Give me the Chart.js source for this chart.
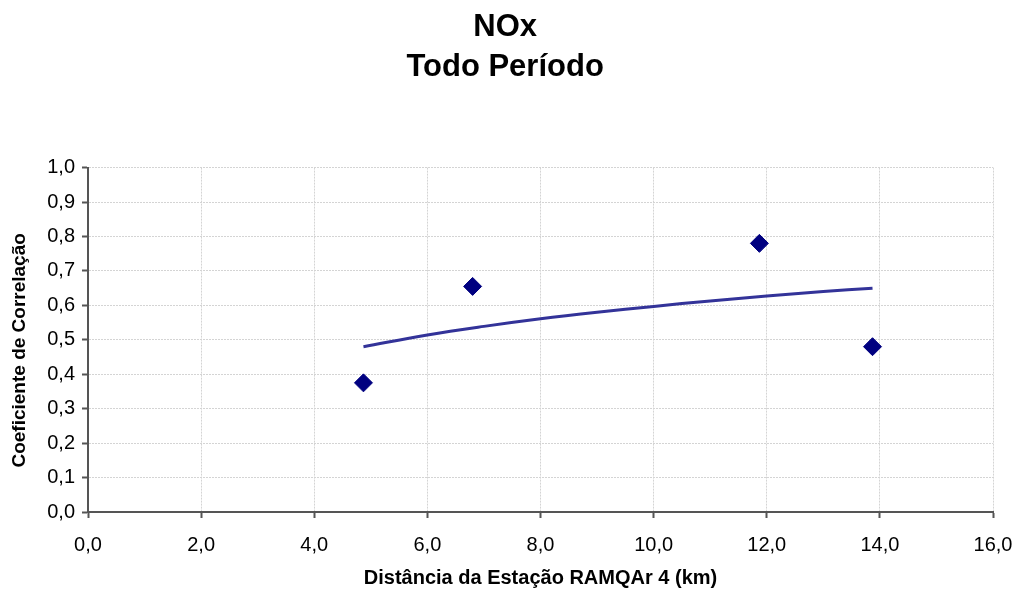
<!DOCTYPE html>
<html>
<head>
<meta charset="utf-8">
<script src="https://cdn.jsdelivr.net/npm/chart.js@4"></script>
<style>
  html, body { margin: 0; padding: 0; background: #fff; }
  #wrap { width: 1019px; height: 590px; }
</style>
</head>
<body>
<div id="wrap"><canvas id="canvas" width="1019" height="590"></canvas></div>
<script>
// measured points (distance km, correlation)
var distancia = [4.87, 6.80, 11.87, 13.87];
var correlacao = [0.375, 0.655, 0.780, 0.480];
// trend line (log)
var tendX = [4.87, 6, 7, 8, 9, 10, 11, 12, 13, 13.87];
var tendY = [0.480, 0.514, 0.539, 0.561, 0.580, 0.597, 0.613, 0.627, 0.640, 0.650];

var FONT = "'Liberation Sans', Arial, sans-serif";

function virgula(v) {
  return Number(v).toFixed(1).replace('.', ',');
}

window.onload = function () {
  var pontos = distancia.map(function (x, i) { return { x: x, y: correlacao[i] }; });
  var tendencia = tendX.map(function (x, i) { return { x: x, y: tendY[i] }; });

  var ctx = document.getElementById('canvas').getContext('2d');
  window.myChart = new Chart(ctx, {
    type: 'scatter',
    data: {
      datasets: [{
        label: 'NOx',
        data: pontos,
        pointStyle: 'rectRot',
        pointRadius: 9,
        pointHoverRadius: 9,
        backgroundColor: '#000080',
        borderColor: '#000080',
        borderWidth: 1,
        order: 1
      }, {
        label: 'Tendência',
        type: 'line',
        data: tendencia,
        showLine: true,
        pointRadius: 0,
        borderColor: '#333399',
        borderWidth: 3,
        tension: 0.4,
        fill: false,
        order: 2
      }]
    },
    options: {
      responsive: false,
      animation: false,
      layout: { padding: { left: 0, right: 26, top: 0, bottom: 0 } },
      plugins: {
        legend: { display: false },
        tooltip: { enabled: false },
        title: {
          display: true,
          // leading spaces nudge the centred title a bit to the right, like the original
          text: ['\u00a0\u00a0NOx', '\u00a0\u00a0Todo Período'],
          color: '#000',
          font: { family: FONT, size: 31, weight: 'bold', lineHeight: 1.3 },
          padding: { top: 7, bottom: 80 }
        }
      },
      scales: {
        x: {
          type: 'linear',
          min: 0, max: 16,
          ticks: {
            stepSize: 2,
            color: '#000',
            padding: 15,
            font: { family: FONT, size: 20 },
            callback: function (v) { return virgula(v); }
          },
          grid: {
            color: '#d4d4d4',
            lineWidth: 1,
            tickLength: 6,
            tickColor: '#555',
            tickWidth: 2
          },
          border: { display: true, color: '#555', width: 2, dash: [2, 1] },
          title: {
            display: true,
            text: 'Distância da Estação RAMQAr 4 (km)',
            color: '#000',
            font: { family: FONT, size: 20, weight: 'bold' },
            padding: { top: 2, bottom: 0 }
          },
          afterFit: function (s) {
            s.height = 78;
            s.paddingLeft = 0;
            s.paddingRight = 0;
          }
        },
        y: {
          type: 'linear',
          min: 0, max: 1,
          ticks: {
            stepSize: 0.1,
            color: '#000',
            padding: 7,
            font: { family: FONT, size: 20 },
            callback: function (v) { return virgula(v); }
          },
          grid: {
            color: '#d4d4d4',
            lineWidth: 1,
            tickLength: 6,
            tickColor: '#555',
            tickWidth: 2
          },
          border: { display: true, color: '#555', width: 2, dash: [2, 1] },
          title: {
            display: true,
            text: 'Coeficiente de Correlação\u00a0\u00a0\u00a0\u00a0',
            color: '#000',
            font: { family: FONT, size: 19, weight: 'bold' },
            padding: { top: 8, bottom: 2 }
          },
          afterFit: function (s) {
            s.width = 88;
            s.paddingTop = 0;
            s.paddingBottom = 0;
          }
        }
      }
    }
  });
};
</script>
</body>
</html>
